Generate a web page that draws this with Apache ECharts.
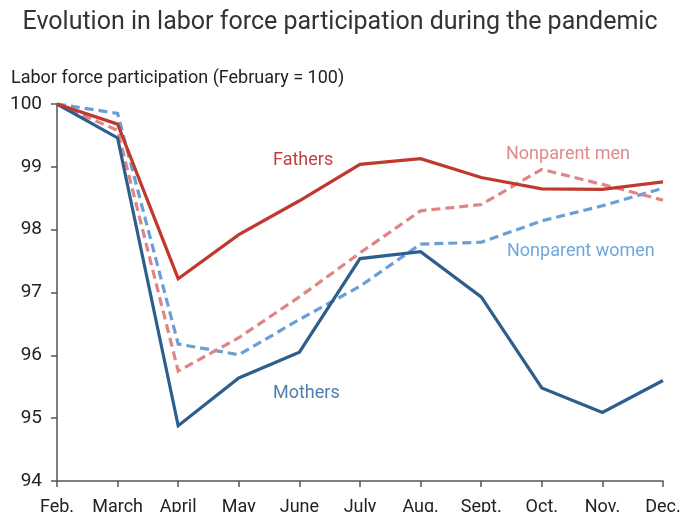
<!DOCTYPE html>
<html>
<head>
<meta charset="utf-8">
<script src="https://cdn.jsdelivr.net/npm/echarts@6/dist/echarts.min.js"></script>
<style>
  html, body { margin: 0; padding: 0; background: #fff; }
  #chart { width: 680px; height: 512px; }
</style>
</head>
<body>
<div id="chart"></div>
<script>
  const months = ['Feb.', 'March', 'April', 'May', 'June', 'July', 'Aug.', 'Sept.', 'Oct.', 'Nov.', 'Dec.']
  const fathers = [100, 99.68, 97.22, 97.92, 98.46, 99.04, 99.13, 98.83, 98.65, 98.64, 98.76]
  const mothers = [100, 99.46, 94.88, 95.64, 96.05, 97.54, 97.65, 96.93, 95.48, 95.09, 95.6]
  const nonparentMen = [100, 99.58, 95.75, 96.28, 96.93, 97.63, 98.3, 98.4, 98.96, 98.72, 98.47]
  const nonparentWomen = [100, 99.85, 96.18, 96.01, 96.57, 97.1, 97.77, 97.8, 98.14, 98.38, 98.66]
  const yTicks = [94, 95, 96, 97, 98, 99, 100]

  const chart = echarts.init(document.getElementById('chart'))

  const lineSeries = (name, data, color, dashed) => ({
    name,
    type: 'line',
    data,
    symbol: 'none',
    animation: false,
    z: dashed ? 2 : 3,
    lineStyle: {
      color,
      width: 3.2,
      type: dashed ? [9, 5] : 'solid',
      join: 'miter'
    }
  })

  const option = {
    backgroundColor: '#fff',
    textStyle: { fontFamily: 'Roboto' },
    title: {
      text: 'Evolution in labor force participation during the pandemic',
      left: 'center',
      top: 5,
      textStyle: { fontFamily: 'Roboto', fontSize: 25, fontWeight: 'normal', color: '#333' }
    },
    grid: { left: 57, right: 17, top: 104, bottom: 31, containLabel: false, outerBoundsMode: 'none' },
    xAxis: {
      type: 'category',
      data: months,
      boundaryGap: false,
      axisLine: { lineStyle: { color: '#555', width: 1.5 } },
      axisTick: { show: true, length: 6, interval: 0, alignWithLabel: true, lineStyle: { color: '#555', width: 1.5 } },
      axisLabel: { interval: 0, margin: 17, fontSize: 18, color: '#222' }
    },
    yAxis: {
      type: 'value',
      min: yTicks[0],
      max: yTicks[yTicks.length - 1],
      interval: 1,
      name: 'Labor force participation (February = 100)',
      nameLocation: 'end',
      nameGap: 17,
      nameTextStyle: { align: 'left', padding: [0, 0, 0, -46], fontSize: 18, color: '#222' },
      axisLine: { show: true, lineStyle: { color: '#555', width: 1.5 } },
      axisTick: { show: true, length: 6, lineStyle: { color: '#555', width: 1.5 } },
      axisLabel: { fontSize: 19, color: '#222', margin: 15 },
      splitLine: { show: false }
    },
    series: [
      lineSeries('Nonparent women', nonparentWomen, '#6A9FD6', true),
      lineSeries('Nonparent men', nonparentMen, '#E08585', true),
      lineSeries('Mothers', mothers, '#2C5F8E', false),
      lineSeries('Fathers', fathers, '#C0392F', false)
    ],
    graphic: [
      { type: 'text', left: 273, top: 151, style: { text: 'Fathers', fontSize: 18, fill: '#C44040', fontFamily: 'Roboto' } },
      { type: 'text', left: 506, top: 145, style: { text: 'Nonparent men', fontSize: 18, fill: '#E08A8A', fontFamily: 'Roboto' } },
      { type: 'text', left: 507, top: 242, style: { text: 'Nonparent women', fontSize: 18, fill: '#6FA8DC', fontFamily: 'Roboto' } },
      { type: 'text', left: 273, top: 384, style: { text: 'Mothers', fontSize: 18, fill: '#4F7FAE', fontFamily: 'Roboto' } }
    ]
  }

  chart.setOption(option)
</script>
</body>
</html>
